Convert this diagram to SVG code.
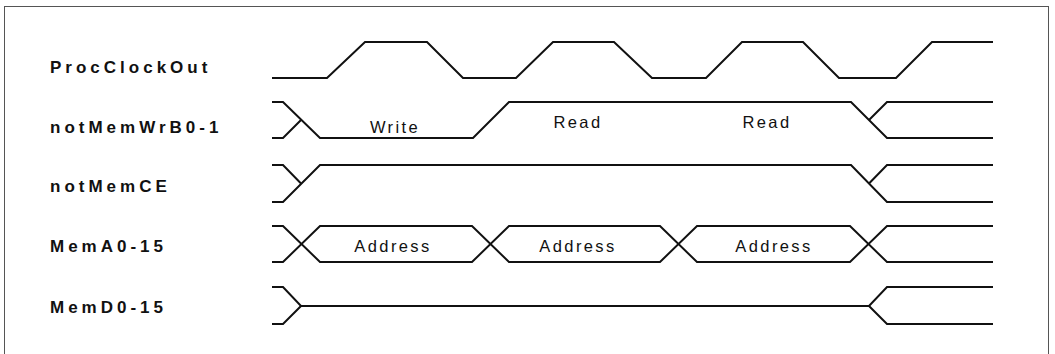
<svg xmlns="http://www.w3.org/2000/svg" width="1055" height="354" viewBox="0 0 1055 354">
<style>
.sig{fill:none;stroke:#111;stroke-width:2;stroke-linejoin:miter}
.lbl{font-family:"Liberation Sans",Arial,sans-serif;font-weight:bold;font-size:17px;letter-spacing:4px;fill:#111}
.val{font-family:"Liberation Sans",Arial,sans-serif;font-size:16.5px;letter-spacing:2.4px;fill:#111;text-anchor:middle}
</style>
<rect x="0" y="0" width="1055" height="354" fill="#fff"/>
<rect x="4.5" y="6.5" width="1044" height="360" fill="none" stroke="#555" stroke-width="1"/>
<g id="labels">
<text class="lbl" x="50" y="73">ProcClockOut</text>
<text class="lbl" x="50" y="133">notMemWrB0-1</text>
<text class="lbl" x="50" y="192">notMemCE</text>
<text class="lbl" x="50" y="252">MemA0-15</text>
<text class="lbl" x="50" y="313">MemD0-15</text>
</g>
<g id="connectors">
<path id="clock" class="sig" d="M272,78 L327,78 L365,42 L427,42 L463,78 L516,78 L553,42 L614,42 L652,78 L706,78 L742,42 L803,42 L839,78 L896,78 L932,42 L993,42"/>
<g id="wr">
<path class="sig" d="M272,102 L283,102 L320,138 L473,138 L509,102 L851,102 L887,138 L993,138"/>
<path class="sig" d="M272,138 L283,138 L301,120"/>
<path class="sig" d="M869,120 L887,102 L993,102"/>
</g>
<g id="ce">
<path class="sig" d="M272,165 L283,165 L301,183.5"/>
<path class="sig" d="M272,202 L283,202 L320,165 L851,165 L887,202 L993,202"/>
<path class="sig" d="M869,183.5 L887,165 L993,165"/>
</g>
<g id="addr">
<path class="sig" d="M272,226 L283,226 L320,262 L472,262 L509,226 L660,226 L697,262 L850,262 L887,226 L993,226"/>
<path class="sig" d="M272,262 L283,262 L320,226 L472,226 L509,262 L660,262 L697,226 L850,226 L887,262 L993,262"/>
</g>
<g id="data">
<path class="sig" d="M272,287 L283,287 L301,306 L869,306 L887,287 L993,287"/>
<path class="sig" d="M272,324 L283,324 L301,306"/>
<path class="sig" d="M869,306 L887,324 L993,324"/>
</g>
</g>
<g id="values">
<text class="val" x="395" y="133">Write</text>
<text class="val" x="578" y="128">Read</text>
<text class="val" x="767" y="128">Read</text>
<text class="val" x="393" y="252">Address</text>
<text class="val" x="578" y="252">Address</text>
<text class="val" x="774" y="252">Address</text>
</g>
</svg>
